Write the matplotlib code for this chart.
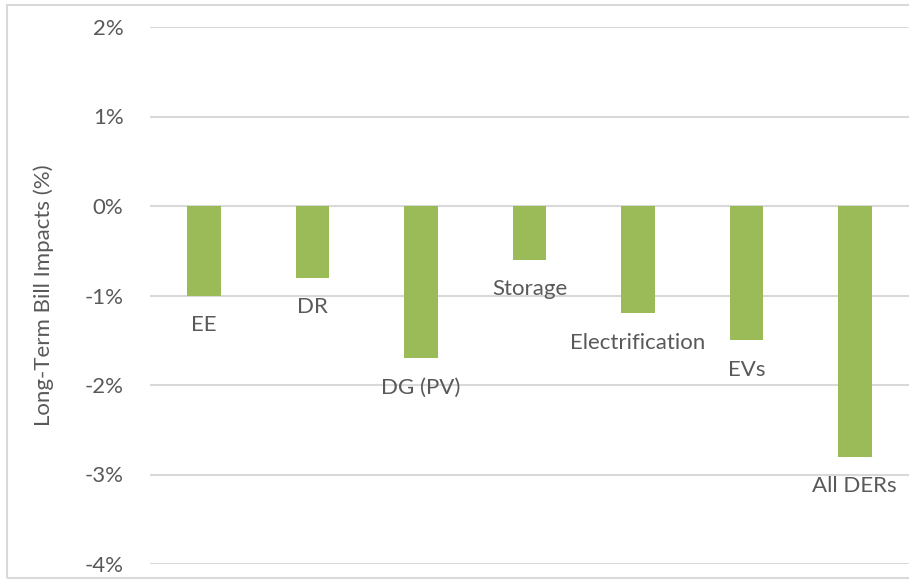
import numpy as np
import matplotlib
matplotlib.use("Agg")
from matplotlib import pyplot as plt
from matplotlib.patches import Rectangle

# Long-term bill impacts by DER type
categories = ["EE", "DR", "DG (PV)", "Storage", "Electrification", "EVs", "All DERs"]
impacts = [-1.0, -0.8, -1.7, -0.6, -1.2, -1.5, -2.8]
yticks = [-4, -3, -2, -1, 0, 1, 2]

plt.rcParams['font.family'] = ['Lato', 'DejaVu Sans']
textColor = '#595959'
gridColor = '#D9D9D9'
barColor = '#9BBB59'

fig = plt.figure(figsize=(9.09, 5.81), dpi=100)
W, H = 909, 581
ax = fig.add_axes([150 / W, (H - 564) / H, (W - 150) / W, (564 - 27) / H])

x = np.arange(len(categories))
ax.bar(x, impacts, width=0.31, color=barColor, zorder=3)

# category names sit just under the end of each bar
for xi, v, name in zip(x, impacts, categories):
    ax.text(xi, v - 0.33, name, ha='center', va='center', fontsize=16, color=textColor, zorder=4)

ax.set_xlim(-0.5, len(categories) - 0.5)
ax.set_ylim(-4, 2)
ax.set_yticks(yticks)
ax.set_yticklabels([f"{t}%" for t in yticks], fontsize=16, color=textColor)
ax.set_xticks([])
ax.tick_params(axis='y', length=0, pad=19)
ax.yaxis.grid(True, color=gridColor, linewidth=1.5, zorder=0)
for s in ax.spines.values():
    s.set_visible(False)
ax.set_ylabel("Long-Term Bill Impacts (%)", fontsize=16, color=textColor, labelpad=22)

# chart frame
fig.patches.append(Rectangle((7 / W, 3 / H), 1.0, (H - 8) / H, transform=fig.transFigure,
                             fill=False, edgecolor=gridColor, linewidth=1.5))

fig.savefig("out.png", dpi=100)
